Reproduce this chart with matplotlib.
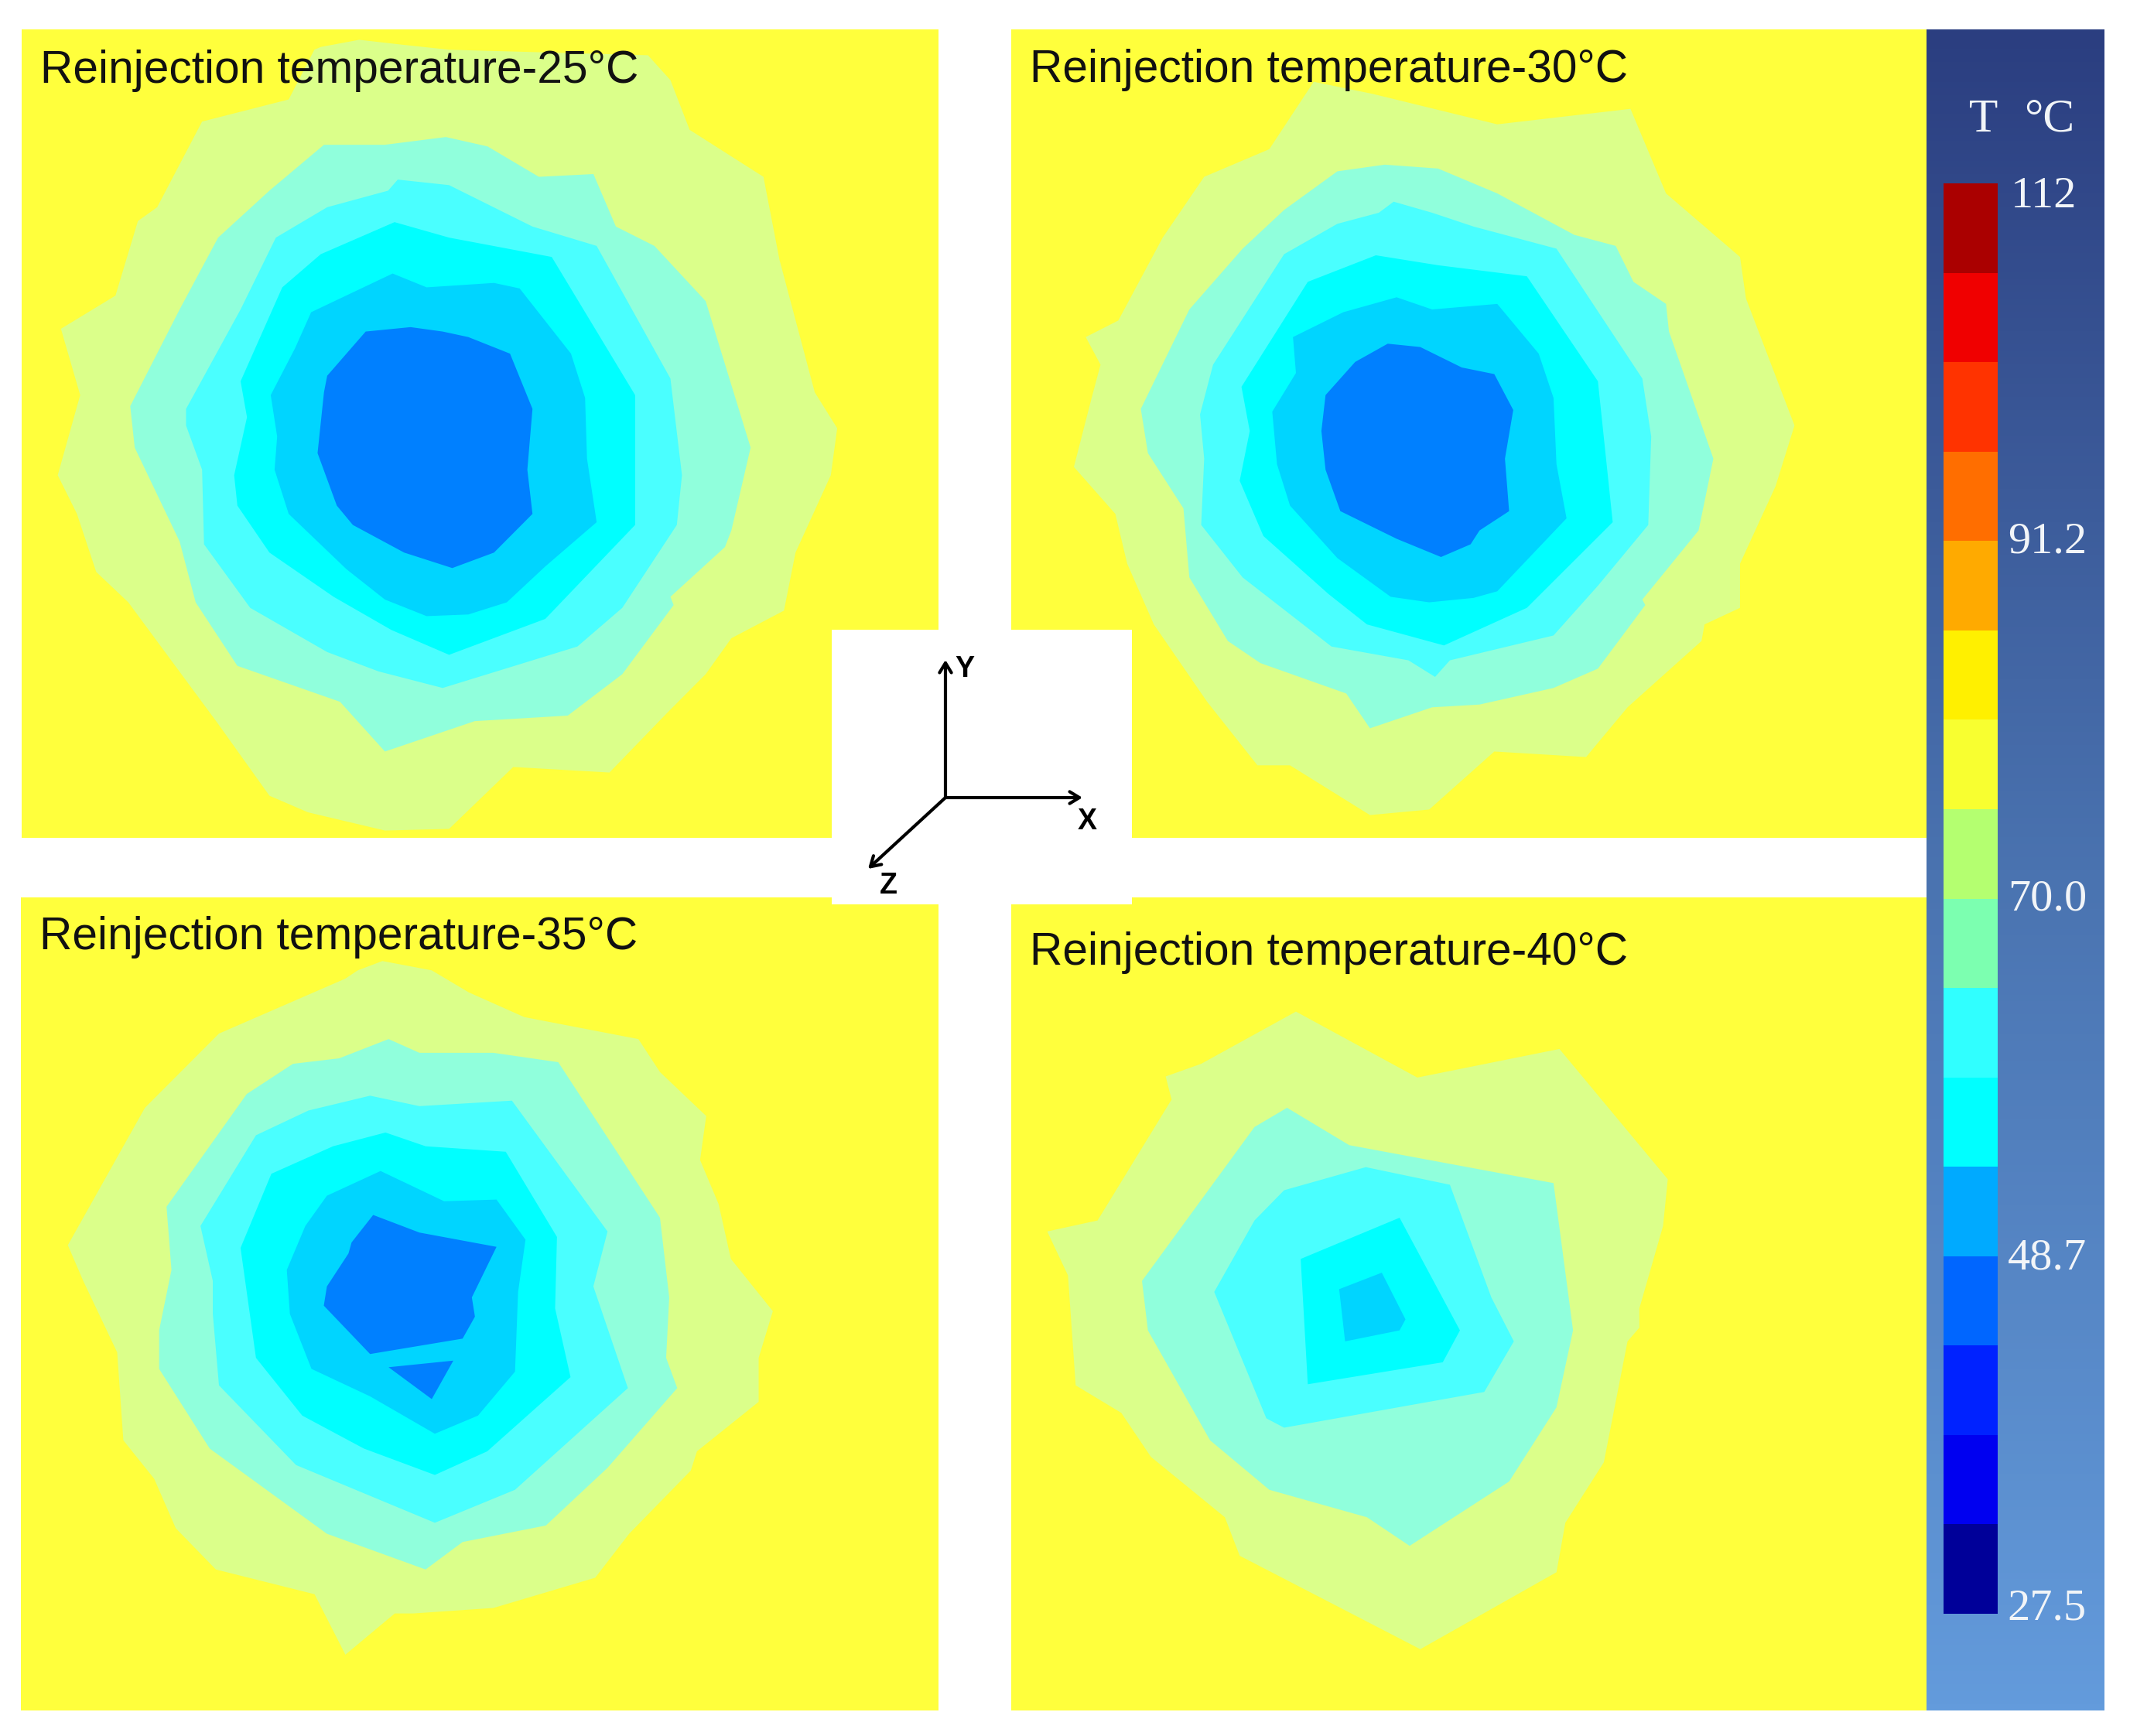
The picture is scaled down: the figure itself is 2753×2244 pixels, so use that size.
import numpy as np
import matplotlib
matplotlib.use("Agg")
import matplotlib.pyplot as plt
from matplotlib.colors import ListedColormap, BoundaryNorm, LinearSegmentedColormap

W, H, DPI = 2753, 2244, 100

# ---------- data ----------
panel_titles = ["Reinjection temperature-25°C", "Reinjection temperature-30°C",
                "Reinjection temperature-35°C", "Reinjection temperature-40°C"]
level_colors = ["#DBFF8A", "#90FFDC", "#4AFFFF", "#00FFFF", "#00D5FF", "#0080FF"]
field_color = "#FFFF3C"

cbar_levels = np.linspace(27.5, 112, 17)
cbar_colors = ["#000099", "#0000F0", "#0022FF", "#0066FF", "#00AAFF", "#00FFFF", "#30FFFF", "#7CFFB0",
               "#B4FF70", "#F8FF30", "#FFF000", "#FFAA00", "#FF6E00", "#FF3300", "#F00000", "#AA0000"]
cbar_ticks = [112, 91.2, 70.0, 48.7, 27.5]
cbar_ticklabels = ["112", "91.2", "70.0", "48.7", "27.5"]

p1_l1 = [(500,85),(560,72),(620,80),(700,90),(1010,100),(1045,145),(1075,235),(1190,320),(1215,470),(1270,710),(1305,775),(1295,860),(1240,1000),(1222,1105),(1140,1155),(1100,1220),(1040,1290),(950,1398),(800,1388),(700,1500),(600,1503),(480,1470),(420,1440),(340,1310),(270,1200),(200,1090),(150,1035),(120,930),(90,860),(125,715),(95,595),(180,535),(215,400),(245,375),(315,220),(450,180),(490,90)]
p1_l2 = [(505,262),(600,262),(695,248),(760,265),(840,320),(925,315),(960,410),(1020,445),(1100,545),(1125,640),(1170,810),(1140,960),(1130,990),(1045,1080),(1050,1095),(970,1220),(885,1295),(740,1305),(600,1360),(530,1270),(370,1205),(305,1090),(280,980),(210,810),(203,735),(280,560),(340,430),(420,345)]
p1_l3 = [(620,325),(700,335),(830,410),(930,445),(1045,685),(1063,860),(1055,950),(970,1100),(900,1170),(690,1245),(590,1215),(510,1180),(390,1100),(318,985),(315,850),(290,770),(290,740),(375,560),(430,430),(510,375),(605,345)]
p1_l4 = [(615,402),(700,430),(860,465),(990,715),(990,950),(850,1120),(700,1185),(610,1140),(520,1080),(420,1000),(370,915),(365,860),(385,755),(375,690),(440,520),(500,460)]
p1_l5 = [(612,495),(665,520),(770,512),(810,522),(890,640),(912,720),(915,830),(930,945),(850,1025),(790,1090),(730,1112),(665,1115),(600,1085),(540,1030),(450,930),(428,850),(432,790),(422,715),(460,630),(485,565)]
p1_l6 = [(570,600),(640,592),(690,600),(730,610),(795,640),(830,740),(822,850),(830,930),(770,1000),(705,1028),(630,1000),(550,950),(525,915),(495,820),(505,710),(510,680)]

p2_l1 = [(520,148),(620,170),(830,225),(1055,197),(1115,350),(1240,465),(1250,540),(1332,770),(1300,880),(1240,1020),(1240,1100),(1180,1130),(1175,1160),(1050,1280),(980,1370),(825,1360),(715,1465),(615,1475),(480,1385),(425,1385),(340,1270),(250,1130),(205,1020),(185,930),(115,845),(145,720),(160,660),(135,610),(190,580),(265,430),(335,320),(445,270)]
p2_l2 = [(560,310),(640,298),(730,305),(830,350),(960,425),(1030,445),(1060,510),(1115,550),(1120,600),(1195,830),(1170,960),(1075,1085),(1080,1095),(1000,1210),(925,1245),(800,1275),(720,1280),(615,1318),(575,1255),(430,1200),(375,1160),(310,1045),(300,920),(240,820),(228,740),(310,560),(400,450),(470,380)]
p2_l3 = [(655,365),(720,385),(790,410),(930,450),(1075,685),(1090,790),(1085,950),(1000,1060),(925,1150),(750,1195),(725,1225),(680,1195),(550,1170),(400,1045),(330,950),(335,830),(328,750),(350,660),(470,460),(560,405),(630,385)]
p2_l4 = [(625,462),(730,480),(880,500),(1000,690),(1025,945),(880,1100),(740,1168),(610,1130),(545,1075),(435,970),(395,870),(412,780),(398,700),(510,510)]
p2_l5 = [(660,538),(720,560),(830,550),(900,640),(925,720),(930,840),(947,938),(830,1070),(790,1082),(715,1090),(650,1080),(560,1010),(480,915),(458,840),(450,745),(490,675),(485,610),(570,565)]
p2_l6 = [(645,622),(700,628),(770,665),(825,677),(857,742),(843,830),(850,925),(800,960),(785,985),(735,1008),(660,975),(565,925),(540,850),(533,780),(540,715),(590,655)]

p3_l1 = [(580,175),(620,158),(700,175),(760,215),(850,260),(1035,300),(1070,360),(1145,440),(1135,520),(1165,600),(1185,700),(1253,795),(1230,880),(1230,960),(1130,1050),(1120,1085),(1020,1200),(965,1280),(800,1335),(670,1345),(640,1345),(560,1420),(510,1310),(350,1265),(285,1190),(250,1100),(200,1030),(190,870),(135,740),(110,675),(235,425),(355,290),(560,190)]
p3_l2 = [(630,300),(680,325),(800,325),(905,342),(1070,625),(1085,770),(1080,880),(1098,935),(985,1080),(885,1185),(750,1215),(690,1265),(530,1200),(340,1045),(258,900),(258,830),(278,720),(270,605),(400,400),(475,345),(550,335)]
p3_l3 = [(600,403),(680,422),(830,412),(985,650),(962,750),(1018,935),(835,1120),(705,1180),(480,1075),(355,930),(345,800),(345,740),(325,640),(415,475),(500,430)]
p3_l4 = [(625,470),(690,495),(820,505),(903,660),(900,790),(925,915),(790,1050),(705,1093),(590,1045),(490,985),(415,880),(405,800),(390,680),(440,545),(540,495)]
p3_l5 = [(617,540),(720,595),(805,592),(852,665),(840,760),(835,905),(775,985),(705,1018),(600,950),(505,900),(470,800),(465,720),(495,640),(530,585)]
p3_l6a = [(605,620),(680,652),(805,678),(765,770),(770,805),(750,845),(600,873),(525,785),(530,750),(565,690),(570,670)]
p3_l6b = [(630,897),(735,885),(700,955)]

p4_l1 = [(490,250),(695,370),(935,318),(1118,555),(1110,640),(1070,790),(1070,825),(1050,850),(1010,1070),(945,1180),(930,1270),(700,1410),(395,1240),(370,1170),(245,1060),(195,980),(118,930),(105,730),(70,650),(155,630),(280,410),(270,368),(330,345)]
p4_l2 = [(475,425),(580,493),(925,562),(958,830),(930,970),(850,1105),(682,1222),(610,1170),(445,1120),(345,1030),(240,830),(230,740),(420,460)]
p4_l3 = [(608,533),(750,565),(820,770),(858,850),(808,942),(470,1007),(440,990),(352,760),(420,630),(470,575)]
p4_l4 = [(665,625),(767,830),(738,888),(510,928),(498,700)]
p4_l5 = [(635,725),(675,810),(665,830),(573,850),(563,755)]

panel_layers = [
    [(0, p1_l1), (1, p1_l2), (2, p1_l3), (3, p1_l4), (4, p1_l5), (5, p1_l6)],
    [(0, p2_l1), (1, p2_l2), (2, p2_l3), (3, p2_l4), (4, p2_l5), (5, p2_l6)],
    [(0, p3_l1), (1, p3_l2), (2, p3_l3), (3, p3_l4), (4, p3_l5), (5, p3_l6a), (5, p3_l6b)],
    [(0, p4_l1), (1, p4_l2), (2, p4_l3), (3, p4_l4), (4, p4_l5)],
]

# ---------- layout (full-size pixels) ----------
panel_rects = [(28, 38, 1213, 1083), (1307, 38, 2490, 1083),
               (27, 1160, 1213, 2211), (1307, 1160, 2490, 2211)]
panel_origin = [(0, 0), (1300, 0), (0, 1130), (1300, 1130)]
panel_scale = [(1.206, 1.4), (1.3067, 1.4), (1.2544, 1.4075), (1.3067, 1.4075)]
title_pos = [(63, 150), (40, 148), (64, 137), (40, 165)]

plt.rcParams["font.family"] = ["Liberation Sans", "DejaVu Sans"]
fig = plt.figure(figsize=(W / DPI, H / DPI), dpi=DPI, facecolor="white")


def px_axes(l, t, r, b, **kw):
    return fig.add_axes([l / W, 1 - b / H, (r - l) / W, (b - t) / H], **kw)


for i, rect in enumerate(panel_rects):
    l, t, r, b = rect
    ox, oy = panel_origin[i]
    sx, sy = panel_scale[i]
    ax = px_axes(l, t, r, b, facecolor=field_color)
    ax.set_xlim((l - ox) * sx, (r - ox) * sx)
    ax.set_ylim((b - oy) * sy, (t - oy) * sy)
    ax.axis("off")
    ax.add_patch(plt.Rectangle((0, 0), 1, 1, transform=ax.transAxes, color=field_color, lw=0, zorder=0))
    for level, poly in panel_layers[i]:
        xs, ys = zip(*poly)
        ax.fill(xs, ys, color=level_colors[level], lw=0, zorder=level + 1)
    ax.text(title_pos[i][0], title_pos[i][1], panel_titles[i], fontsize=42.2, color="#111111",
            va="baseline", ha="left", zorder=10)

# centre window with coordinate triad
ov = px_axes(0, 0, W, H)
ov.set_xlim(0, W)
ov.set_ylim(H, 0)
ov.axis("off")
ov.patch.set_alpha(0)
ov.add_patch(plt.Rectangle((1075, 814), 388, 355, color="white", lw=0))
origin = (1222, 1031)
for tip in [(1222, 853), (1399, 1031), (1122, 1123)]:
    ov.annotate("", xy=tip, xytext=origin,
                arrowprops=dict(arrowstyle="->,head_length=0.9,head_width=0.55", lw=3.0, color="black",
                                shrinkA=0, shrinkB=0))
for label, x, y in [("Y", 1247, 865), ("X", 1405, 1062), ("Z", 1148, 1145)]:
    ov.text(x, y, label, fontsize=27, fontweight="bold", ha="center", va="center", color="black")

# colour-bar panel with gradient background
bg = px_axes(2490, 38, 2720, 2211)
grad_cmap = LinearSegmentedColormap.from_list("bg", ["#2B3E80", "#4A73B0", "#639BDC"])
bg.imshow(np.linspace(0, 1, 256)[:, None], aspect="auto", cmap=grad_cmap, extent=(0, 1, 1, 0))
bg.axis("off")
head_y = 1 - (155 - 38) / (2211 - 38)
bg.text(0.40, head_y, "T", transform=bg.transAxes, family="Liberation Serif",
        fontsize=44, color="#F2F5F8", ha="right", va="center")
bg.text(0.55, head_y, "°C", transform=bg.transAxes, family="Liberation Serif",
        fontsize=44, color="#F2F5F8", ha="left", va="center")

cax = px_axes(2512, 237, 2582, 2086)
cmap = ListedColormap(cbar_colors)
norm = BoundaryNorm(cbar_levels, cmap.N)
cax.pcolormesh([0, 1], cbar_levels, np.array(cbar_levels[:-1] + 1e-6)[:, None], cmap=cmap, norm=norm)
cax.set_ylim(cbar_levels[0], cbar_levels[-1])
cax.set_xticks([])
cax.set_yticks([])
for s in cax.spines.values():
    s.set_visible(False)
label_dy = [-12, -6, -5, -3, 5]
label_dx = [43, 46, 46, 46, 46]
for v, txt, dx, dy in zip(cbar_ticks, cbar_ticklabels, label_dx, label_dy):
    cax.annotate(txt, xy=(1, v), xycoords=("axes fraction", "data"), xytext=(dx, dy),
                 textcoords="offset points", family="Liberation Serif", fontsize=42, color="#F2F5F8",
                 ha="center", va="center", annotation_clip=False)

fig.savefig("out.png", dpi=DPI, facecolor="white")
